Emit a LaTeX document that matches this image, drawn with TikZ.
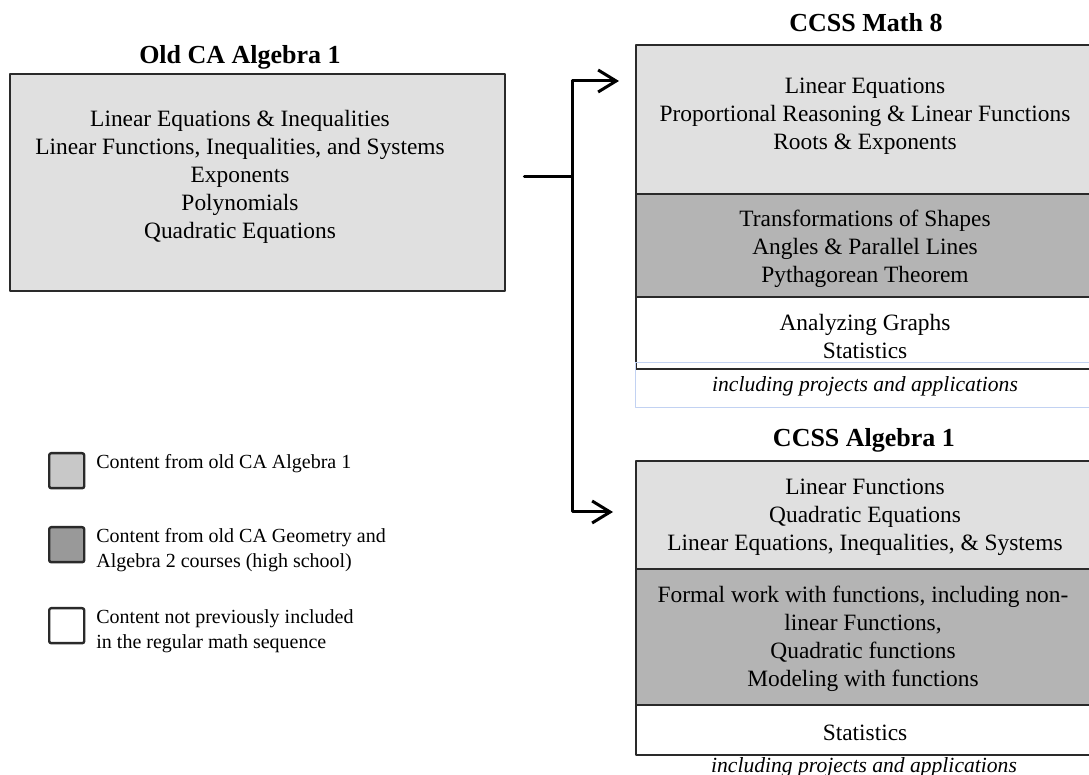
\documentclass[tikz,border=0pt]{standalone}
\usepackage{fontspec}
\setmainfont{Liberation Serif}
\usetikzlibrary{arrows.meta}

\definecolor{lightsec}{HTML}{E0E0E0}
\definecolor{darksec}{HTML}{B4B4B4}
\definecolor{keylight}{HTML}{C8C8C8}
\definecolor{keydark}{HTML}{999999}
\definecolor{noteblue}{HTML}{C2D2F2}
\definecolor{boxline}{HTML}{2A2A2A}

\tikzset{
	sec/.style={draw=boxline, line width=1.2pt, anchor=north west, inner sep=0pt, minimum width=228pt},
	body/.style={align=center, font=\fontsize{11.7}{14}\selectfont},
	heading/.style={font=\fontsize{13}{15}\selectfont\bfseries},
	note/.style={font=\fontsize{10.8}{12}\selectfont\itshape},
	keybox/.style={draw=boxline, line width=1.2pt, rounded corners=1pt, anchor=north west, inner sep=0pt, minimum size=17.5pt},
	keytext/.style={anchor=north west, inner sep=0pt, align=left, font=\fontsize{10}{12.5}\selectfont},
	joint/.style={line width=1.5pt},
	flow/.style={line width=1.5pt, -{Straight Barb[length=9pt,width=11pt]}}
}

\begin{document}
\begin{tikzpicture}[x=0.5pt,y=-0.5pt,line join=round,line cap=round]
	
	\useasboundingbox (0,0) rectangle (1089,775);
	
	% old course
	\node[heading] (oldtitle) at (240,57) {Old CA Algebra 1};
	\node[sec, fill=lightsec, minimum width=247.5pt, minimum height=108.5pt] (oldbox) at (9,73) {};
	\node[body] (oldtext) at (240,177) {Linear Equations \& Inequalities\\Linear Functions, Inequalities, and Systems\\Exponents\\Polynomials\\Quadratic Equations};
	
	% CCSS Math 8
	\node[heading] (mtitle) at (866,23) {CCSS Math 8};
	\node[sec, fill=lightsec, minimum height=74.5pt] (ma) at (635,44) {};
	\node[sec, fill=darksec, minimum height=51.5pt] (mb) at (635,193) {};
	\node[sec, fill=white, minimum height=36pt] (mc) at (635,296) {};
	\node[draw=noteblue, line width=0.6pt, anchor=north west, inner sep=0pt, minimum width=228pt, minimum height=22.5pt] (mnote) at (635,362) {};
	\node[body] (matext) at (865,116) {Linear Equations\\Proportional Reasoning \& Linear Functions\\Roots \& Exponents};
	\node[body] (mbtext) at (865,249) {Transformations of Shapes\\Angles \& Parallel Lines\\Pythagorean Theorem};
	\node[body] (mctext) at (865,336) {Analyzing Graphs\\Statistics};
	\node[note] (mnotetext) at (865,386) {including projects and applications};
	
	% CCSS Algebra 1
	\node[heading] (atitle) at (864,440) {CCSS Algebra 1};
	\node[sec, fill=lightsec, minimum height=54pt] (aa) at (635,460) {};
	\node[sec, fill=darksec, minimum height=68pt] (ab) at (635,568) {};
	\node[sec, fill=white, minimum height=25pt] (ac) at (635,704) {};
	\node[body] (aatext) at (865,517) {Linear Functions\\Quadratic Equations\\Linear Equations, Inequalities, \& Systems};
	\node[body] (abtext) at (863,639) {Formal work with functions, including non-\\linear Functions,\\Quadratic functions\\Modeling with functions};
	\node[body] (actext) at (865,733) {Statistics};
	\node[note] (anotetext) at (864,767) {including projects and applications};
	
	% connectors
	\coordinate (split) at (572,177);
	\draw[joint, shorten <=9pt] (oldbox.east |- split) -- (split);
	\draw[flow, shorten >=8pt] (split) |- ([yshift=-18.5pt]ma.north west);
	\draw[flow, shorten >=11pt] (split) |- ([yshift=-26pt]aa.north west);
	
	% key
	\foreach \n/\y/\col/\txt in {1/452/keylight/{Content from old CA Algebra 1},
		2/526/keydark/{Content from old CA Geometry and\\Algebra 2 courses (high school)},
		3/607/white/{Content not previously included\\in the regular math sequence}}
	{
		\node[keybox, fill=\col] (key\n) at (48,\y) {};
		\node[keytext] (keytext\n) at (96,\y+2) {\txt};
	}
	
\end{tikzpicture}
\end{document}
